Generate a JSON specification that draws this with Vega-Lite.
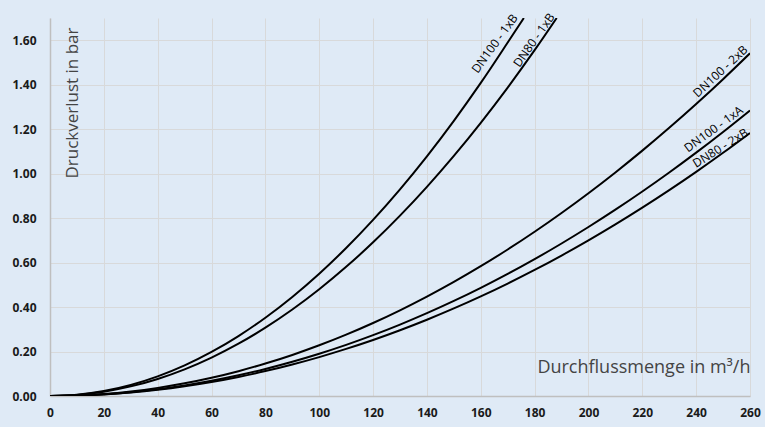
{
  "$schema": "https://vega.github.io/schema/vega-lite/v6.json",
  "width": 700,
  "height": 378,
  "autosize": "none",
  "padding": {"left": 50, "top": 18, "right": 15, "bottom": 31},
  "background": "#dfeaf6",
  "config": {"view": {"stroke": null}, "font": "Open Sans"},
  "datasets": {
    "curves": [
      {"s": "DN100 - 1xB", "q": 0, "p": 0}, {"s": "DN100 - 1xB", "q": 10, "p": 0.0055}, {"s": "DN100 - 1xB", "q": 20, "p": 0.022}, {"s": "DN100 - 1xB", "q": 30, "p": 0.0495}, {"s": "DN100 - 1xB", "q": 40, "p": 0.088}, {"s": "DN100 - 1xB", "q": 50, "p": 0.1375}, {"s": "DN100 - 1xB", "q": 60, "p": 0.198}, {"s": "DN100 - 1xB", "q": 70, "p": 0.2695}, {"s": "DN100 - 1xB", "q": 80, "p": 0.352}, {"s": "DN100 - 1xB", "q": 90, "p": 0.4455}, {"s": "DN100 - 1xB", "q": 100, "p": 0.55}, {"s": "DN100 - 1xB", "q": 110, "p": 0.6655}, {"s": "DN100 - 1xB", "q": 120, "p": 0.792}, {"s": "DN100 - 1xB", "q": 130, "p": 0.9295}, {"s": "DN100 - 1xB", "q": 140, "p": 1.078}, {"s": "DN100 - 1xB", "q": 150, "p": 1.2375}, {"s": "DN100 - 1xB", "q": 160, "p": 1.408}, {"s": "DN100 - 1xB", "q": 170, "p": 1.5895}, {"s": "DN100 - 1xB", "q": 176, "p": 1.70},
      {"s": "DN80 - 1xB", "q": 0, "p": 0}, {"s": "DN80 - 1xB", "q": 10, "p": 0.0048}, {"s": "DN80 - 1xB", "q": 20, "p": 0.0192}, {"s": "DN80 - 1xB", "q": 30, "p": 0.0432}, {"s": "DN80 - 1xB", "q": 40, "p": 0.0768}, {"s": "DN80 - 1xB", "q": 50, "p": 0.12}, {"s": "DN80 - 1xB", "q": 60, "p": 0.1728}, {"s": "DN80 - 1xB", "q": 70, "p": 0.2352}, {"s": "DN80 - 1xB", "q": 80, "p": 0.3072}, {"s": "DN80 - 1xB", "q": 90, "p": 0.3888}, {"s": "DN80 - 1xB", "q": 100, "p": 0.48}, {"s": "DN80 - 1xB", "q": 110, "p": 0.5808}, {"s": "DN80 - 1xB", "q": 120, "p": 0.6912}, {"s": "DN80 - 1xB", "q": 130, "p": 0.8112}, {"s": "DN80 - 1xB", "q": 140, "p": 0.9408}, {"s": "DN80 - 1xB", "q": 150, "p": 1.08}, {"s": "DN80 - 1xB", "q": 160, "p": 1.2288}, {"s": "DN80 - 1xB", "q": 170, "p": 1.3872}, {"s": "DN80 - 1xB", "q": 180, "p": 1.5552}, {"s": "DN80 - 1xB", "q": 188.2, "p": 1.70},
      {"s": "DN100 - 2xB", "q": 0, "p": 0}, {"s": "DN100 - 2xB", "q": 10, "p": 0.0023}, {"s": "DN100 - 2xB", "q": 20, "p": 0.0091}, {"s": "DN100 - 2xB", "q": 30, "p": 0.0205}, {"s": "DN100 - 2xB", "q": 40, "p": 0.0365}, {"s": "DN100 - 2xB", "q": 50, "p": 0.057}, {"s": "DN100 - 2xB", "q": 60, "p": 0.0821}, {"s": "DN100 - 2xB", "q": 70, "p": 0.1117}, {"s": "DN100 - 2xB", "q": 80, "p": 0.1459}, {"s": "DN100 - 2xB", "q": 90, "p": 0.1847}, {"s": "DN100 - 2xB", "q": 100, "p": 0.228}, {"s": "DN100 - 2xB", "q": 110, "p": 0.2759}, {"s": "DN100 - 2xB", "q": 120, "p": 0.3283}, {"s": "DN100 - 2xB", "q": 130, "p": 0.3853}, {"s": "DN100 - 2xB", "q": 140, "p": 0.4469}, {"s": "DN100 - 2xB", "q": 150, "p": 0.513}, {"s": "DN100 - 2xB", "q": 160, "p": 0.5837}, {"s": "DN100 - 2xB", "q": 170, "p": 0.6589}, {"s": "DN100 - 2xB", "q": 180, "p": 0.7387}, {"s": "DN100 - 2xB", "q": 190, "p": 0.8231}, {"s": "DN100 - 2xB", "q": 200, "p": 0.912}, {"s": "DN100 - 2xB", "q": 210, "p": 1.0055}, {"s": "DN100 - 2xB", "q": 220, "p": 1.1035}, {"s": "DN100 - 2xB", "q": 230, "p": 1.2061}, {"s": "DN100 - 2xB", "q": 240, "p": 1.3133}, {"s": "DN100 - 2xB", "q": 250, "p": 1.425}, {"s": "DN100 - 2xB", "q": 260, "p": 1.5413},
      {"s": "DN100 - 1xA", "q": 0, "p": 0}, {"s": "DN100 - 1xA", "q": 10, "p": 0.0019}, {"s": "DN100 - 1xA", "q": 20, "p": 0.0076}, {"s": "DN100 - 1xA", "q": 30, "p": 0.0171}, {"s": "DN100 - 1xA", "q": 40, "p": 0.0304}, {"s": "DN100 - 1xA", "q": 50, "p": 0.0475}, {"s": "DN100 - 1xA", "q": 60, "p": 0.0684}, {"s": "DN100 - 1xA", "q": 70, "p": 0.0931}, {"s": "DN100 - 1xA", "q": 80, "p": 0.1216}, {"s": "DN100 - 1xA", "q": 90, "p": 0.1539}, {"s": "DN100 - 1xA", "q": 100, "p": 0.19}, {"s": "DN100 - 1xA", "q": 110, "p": 0.2299}, {"s": "DN100 - 1xA", "q": 120, "p": 0.2736}, {"s": "DN100 - 1xA", "q": 130, "p": 0.3211}, {"s": "DN100 - 1xA", "q": 140, "p": 0.3724}, {"s": "DN100 - 1xA", "q": 150, "p": 0.4275}, {"s": "DN100 - 1xA", "q": 160, "p": 0.4864}, {"s": "DN100 - 1xA", "q": 170, "p": 0.5491}, {"s": "DN100 - 1xA", "q": 180, "p": 0.6156}, {"s": "DN100 - 1xA", "q": 190, "p": 0.6859}, {"s": "DN100 - 1xA", "q": 200, "p": 0.76}, {"s": "DN100 - 1xA", "q": 210, "p": 0.8379}, {"s": "DN100 - 1xA", "q": 220, "p": 0.9196}, {"s": "DN100 - 1xA", "q": 230, "p": 1.0051}, {"s": "DN100 - 1xA", "q": 240, "p": 1.0944}, {"s": "DN100 - 1xA", "q": 250, "p": 1.1875}, {"s": "DN100 - 1xA", "q": 260, "p": 1.2844},
      {"s": "DN80 - 2xB", "q": 0, "p": 0}, {"s": "DN80 - 2xB", "q": 10, "p": 0.0018}, {"s": "DN80 - 2xB", "q": 20, "p": 0.007}, {"s": "DN80 - 2xB", "q": 30, "p": 0.0158}, {"s": "DN80 - 2xB", "q": 40, "p": 0.028}, {"s": "DN80 - 2xB", "q": 50, "p": 0.0438}, {"s": "DN80 - 2xB", "q": 60, "p": 0.063}, {"s": "DN80 - 2xB", "q": 70, "p": 0.0858}, {"s": "DN80 - 2xB", "q": 80, "p": 0.112}, {"s": "DN80 - 2xB", "q": 90, "p": 0.1418}, {"s": "DN80 - 2xB", "q": 100, "p": 0.175}, {"s": "DN80 - 2xB", "q": 110, "p": 0.2118}, {"s": "DN80 - 2xB", "q": 120, "p": 0.252}, {"s": "DN80 - 2xB", "q": 130, "p": 0.2958}, {"s": "DN80 - 2xB", "q": 140, "p": 0.343}, {"s": "DN80 - 2xB", "q": 150, "p": 0.3938}, {"s": "DN80 - 2xB", "q": 160, "p": 0.448}, {"s": "DN80 - 2xB", "q": 170, "p": 0.5058}, {"s": "DN80 - 2xB", "q": 180, "p": 0.567}, {"s": "DN80 - 2xB", "q": 190, "p": 0.6318}, {"s": "DN80 - 2xB", "q": 200, "p": 0.70}, {"s": "DN80 - 2xB", "q": 210, "p": 0.7718}, {"s": "DN80 - 2xB", "q": 220, "p": 0.847}, {"s": "DN80 - 2xB", "q": 230, "p": 0.9258}, {"s": "DN80 - 2xB", "q": 240, "p": 1.008}, {"s": "DN80 - 2xB", "q": 250, "p": 1.0938}, {"s": "DN80 - 2xB", "q": 260, "p": 1.183}
    ],
    "labels": [
      {"t": "DN100 - 1xB", "q": 165.2, "p": 1.585},
      {"t": "DN80 - 1xB", "q": 179.8, "p": 1.600},
      {"t": "DN100 - 2xB", "q": 249.0, "p": 1.460},
      {"t": "DN100 - 1xA", "q": 246.5, "p": 1.200},
      {"t": "DN80 - 2xB", "q": 249.0, "p": 1.115}
    ]
  },
  "layer": [
    {
      "data": {"name": "curves"},
      "mark": {"type": "line", "interpolate": "monotone", "color": "#000000", "strokeWidth": 2, "clip": true},
      "encoding": {
        "x": {
          "field": "q", "type": "quantitative",
          "scale": {"domain": [0, 260], "nice": false},
          "axis": {
            "values": [0, 20, 40, 60, 80, 100, 120, 140, 160, 180, 200, 220, 240, 260],
            "grid": true, "gridColor": "#d8d9da", "gridWidth": 1,
            "domainColor": "#bfbfbf", "domainWidth": 1.5, "ticks": false,
            "labelFont": "Open Sans", "labelFontWeight": "bold", "labelFontSize": 12, "labelColor": "#1a1a1a",
            "labelPadding": 11, "labelFlush": false,
            "title": "Durchflussmenge in m³/h",
            "titleFont": "Open Sans", "titleFontWeight": "normal", "titleFontSize": 18, "titleColor": "#444444",
            "titleX": 700, "titleY": -24, "titleAlign": "right", "titleBaseline": "alphabetic", "titleAnchor": null
          }
        },
        "y": {
          "field": "p", "type": "quantitative",
          "scale": {"domain": [0, 1.7], "nice": false},
          "axis": {
            "values": [0, 0.2, 0.4, 0.6, 0.8, 1.0, 1.2, 1.4, 1.6],
            "format": ".2f",
            "grid": true, "gridColor": "#d8d9da", "gridWidth": 1,
            "domainColor": "#bfbfbf", "domainWidth": 1.5, "ticks": false,
            "labelFont": "Open Sans", "labelFontWeight": "bold", "labelFontSize": 12, "labelColor": "#1a1a1a",
            "labelPadding": 14,
            "title": "Druckverlust in bar",
            "titleFont": "Open Sans", "titleFontWeight": "normal", "titleFontSize": 17, "titleColor": "#444444",
            "titleAngle": -90, "titleX": 22, "titleY": 9, "titleAlign": "right", "titleBaseline": "middle", "titleAnchor": null
          }
        },
        "detail": {"field": "s", "type": "nominal"}
      }
    },
    {
      "data": {"name": "labels"},
      "transform": [{"filter": "datum.t == 'DN100 - 1xB'"}],
      "mark": {"type": "text", "angle": 306, "fontSize": 12, "font": "Open Sans", "color": "#000000", "align": "center", "baseline": "middle"},
      "encoding": {"x": {"field": "q", "type": "quantitative"}, "y": {"field": "p", "type": "quantitative"}, "text": {"field": "t"}}
    },
    {
      "data": {"name": "labels"},
      "transform": [{"filter": "datum.t == 'DN80 - 1xB'"}],
      "mark": {"type": "text", "angle": 305, "fontSize": 12, "font": "Open Sans", "color": "#000000", "align": "center", "baseline": "middle"},
      "encoding": {"x": {"field": "q", "type": "quantitative"}, "y": {"field": "p", "type": "quantitative"}, "text": {"field": "t"}}
    },
    {
      "data": {"name": "labels"},
      "transform": [{"filter": "datum.t == 'DN100 - 2xB'"}],
      "mark": {"type": "text", "angle": 317, "fontSize": 12, "font": "Open Sans", "color": "#000000", "align": "center", "baseline": "middle"},
      "encoding": {"x": {"field": "q", "type": "quantitative"}, "y": {"field": "p", "type": "quantitative"}, "text": {"field": "t"}}
    },
    {
      "data": {"name": "labels"},
      "transform": [{"filter": "datum.t == 'DN100 - 1xA'"}],
      "mark": {"type": "text", "angle": 324, "fontSize": 12, "font": "Open Sans", "color": "#000000", "align": "center", "baseline": "middle"},
      "encoding": {"x": {"field": "q", "type": "quantitative"}, "y": {"field": "p", "type": "quantitative"}, "text": {"field": "t"}}
    },
    {
      "data": {"name": "labels"},
      "transform": [{"filter": "datum.t == 'DN80 - 2xB'"}],
      "mark": {"type": "text", "angle": 328, "fontSize": 12, "font": "Open Sans", "color": "#000000", "align": "center", "baseline": "middle"},
      "encoding": {"x": {"field": "q", "type": "quantitative"}, "y": {"field": "p", "type": "quantitative"}, "text": {"field": "t"}}
    }
  ]
}
